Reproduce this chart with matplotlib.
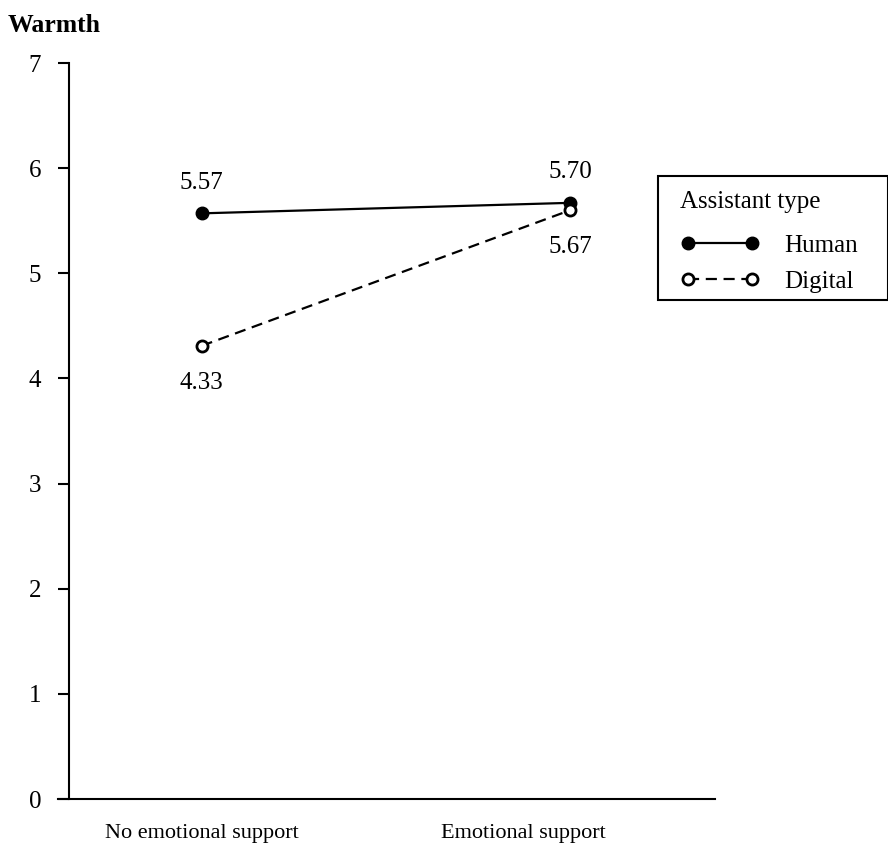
import matplotlib
matplotlib.use("Agg")
import matplotlib.pyplot as plt
from matplotlib.transforms import ScaledTranslation

conditions = ["No emotional support", "Emotional support"]
human = [5.57, 5.67]
digital = [4.31, 5.60]
human_labels = ["5.57", "5.70"]
digital_labels = ["4.33", "5.67"]
yticks = [0, 1, 2, 3, 4, 5, 6, 7]

plt.rcParams['font.family'] = ['Liberation Serif', 'DejaVu Serif']
plt.rcParams['font.size'] = 18

fig = plt.figure(figsize=(8.88, 8.55), dpi=100)
ax = fig.add_axes([69/888, 1-799/855, (715-69)/888, (799-63)/855])

x = [0, 1]
ax.plot(x, human, color='black', lw=1.6, marker='o', ms=9, mfc='black', mec='black', label='Human')
ax.plot(x, digital, color='black', lw=1.6, ls=(0, (5, 3)), marker='o', ms=8, mfc='white',
        mec='black', mew=2, label='Digital')

for xi, v, t in zip(x, human, human_labels):
    ax.annotate(t, (xi, v), xytext=(0, 22), textcoords='offset points', ha='center', va='center', fontsize=18)
for xi, v, t in zip(x, digital, digital_labels):
    ax.annotate(t, (xi, v), xytext=(0, -26.5), textcoords='offset points', ha='center', va='center', fontsize=18)

ax.set_xlim(-0.36, 1.393)
ax.set_ylim(0, 7)
ax.set_yticks(yticks)
ax.set_xticks(x)
ax.set_xticklabels(conditions)
ax.tick_params(axis='y', length=8, width=1.5, direction='out', pad=12, labelsize=18)
ax.tick_params(axis='x', length=0, pad=18, labelsize=16)
lbls = ax.get_xticklabels()
lbls[1].set_transform(lbls[1].get_transform() + ScaledTranslation(-47/100, 0, fig.dpi_scale_trans))

for s in ['top', 'right']:
    ax.spines[s].set_visible(False)
ax.spines['left'].set_linewidth(1.5)
ax.spines['bottom'].set_linewidth(1.5)
ax.spines['bottom'].set_bounds(-0.36 - 11/369, 1.393)

fig.text(8/888, 1-26/855, "Warmth", fontweight='bold', fontsize=18.5, va='center', ha='left')

leg = ax.legend(loc='upper left', bbox_to_anchor=(658/888, 1-176/855), bbox_transform=fig.transFigure,
                title='Assistant type', numpoints=2, fancybox=False, edgecolor='black', framealpha=1,
                handlelength=3.16, fontsize=18, title_fontsize=18, borderpad=0.88, labelspacing=0.54,
                handletextpad=1.02, borderaxespad=0)
leg._legend_box.align = 'left'
leg._legend_box.sep = 14.5 * 72 / 100
leg.get_title().set_position((0, 7))
frame = leg.get_frame()
frame.set_linewidth(1.5)
_orig_set_bounds = frame.set_bounds


def _trimmed_bounds(*args):
    if len(args) == 1:
        l, b, w, h = args[0]
    else:
        l, b, w, h = args
    _orig_set_bounds(l, b + 15, w + 8, h - 15)


frame.set_bounds = _trimmed_bounds

fig.savefig('out.png', dpi=100)
